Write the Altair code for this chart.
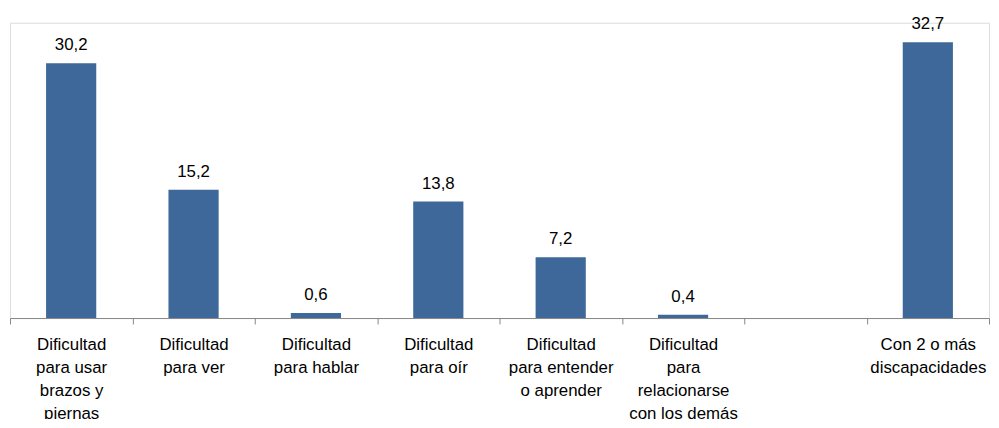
import altair as alt
import pandas as pd

categories = [
    "Dificultad|para usar|brazos y|piernas",
    "Dificultad|para ver",
    "Dificultad|para hablar",
    "Dificultad|para oír",
    "Dificultad|para entender|o aprender",
    "Dificultad|para|relacionarse|con los demás",
    " ",
    "Con 2 o más|discapacidades",
]
values = [30.2, 15.2, 0.6, 13.8, 7.2, 0.4, None, 32.7]

df = pd.DataFrame({"cat": categories, "val": values})

FONT = "Liberation Sans, Arial, sans-serif"

x = alt.X(
    "cat:N",
    scale=alt.Scale(domain=categories, paddingInner=0, paddingOuter=0),
    sort=categories,
    axis=alt.Axis(
        title=None,
        grid=False,
        labelAngle=0,
        labelExpr="isValid(datum.value) ? split(datum.value, '|') : ''",
        labelFont=FONT,
        labelFontSize=17,
        labelLineHeight=23,
        labelColor="#000000",
        labelLimit=0,
        labelPadding=13,
        labelBaseline="top",
        tickBand="extent",
        tickExtra=False,
        tickSize=6,
        tickColor="#868686",
        domainColor="#868686",
        labelOverlap=False,
    ),
)
y = alt.Y("val:Q", scale=alt.Scale(domain=[0, 35], nice=False), axis=None)

base = alt.Chart(df).transform_filter("isValid(datum.val)")
bars = base.mark_bar(width={"band": 0.41}, color="#3E6899").encode(x=x, y=y)
labels = (
    base.transform_calculate(lbl="replace(format(datum.val, '.1f'), '.', ',')")
    .mark_text(font=FONT, fontSize=17, dy=-13, baseline="alphabetic", color="#000000")
    .encode(x=x, y=y, text="lbl:N")
)

chart = (
    alt.layer(bars, labels)
    .properties(
        width=988,
        height=298,
        autosize=alt.AutoSizeParams(type="none"),
        padding={"left": 2, "top": 13, "right": 2, "bottom": 100},
    )
    .configure_view(strokeWidth=0, strokeOpacity=0)
    .configure(background="white")
)

chart.save("out.html", embed_options={"renderer": "svg", "actions": False})
